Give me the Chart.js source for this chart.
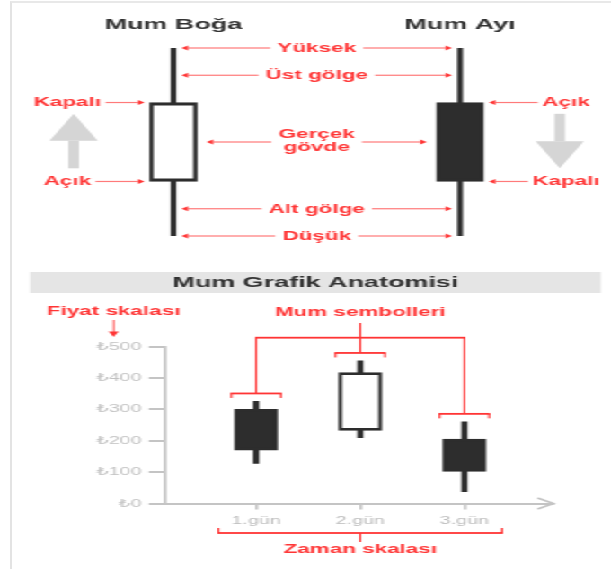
<!DOCTYPE html>
<html lang="tr">
<head>
<meta charset="utf-8">
<title>Mum Grafik Anatomisi</title>
<script src="https://cdn.jsdelivr.net/npm/chart.js@4.4.1/dist/chart.umd.min.js"></script>
<style>
  html, body { margin: 0; padding: 0; background: #fff; }
  #page { position: relative; width: 611px; height: 572px; overflow: hidden; background: #fff; }
  #frame { position: absolute; left: 10px; top: 1px; width: 601px; height: 568px;
           border-left: 2px solid #e3e3e3; border-top: 2px solid #e8e8e8; box-sizing: border-box; }
  /* the artwork is laid out on a narrow sheet and widened horizontally */
  #sheet { position: absolute; left: 0; top: 0; width: 340px; height: 572px;
           transform: scaleX(1.797); transform-origin: 0 0; }
  #anatomy { position: absolute; left: 0; top: 0; }
  #price { position: absolute; left: 0; top: 265px; }
</style>
</head>
<body>
<div id="page">
  <div id="frame"></div>
  <div id="sheet">
    <canvas id="anatomy" width="340" height="265"></canvas>
    <canvas id="price" width="340" height="307"></canvas>
  </div>
</div>
<script>
// ---- Anatomy of a bullish and a bearish candle ----
const anatomyNames = ['Mum Boğa', 'Mum Ayı'];
const anatomyOpen  = [29, 71];
const anatomyClose = [71, 29];
const anatomyHigh  = [100, 100];
const anatomyLow   = [0, 0];
const partNames = [['Yüksek'], ['Üst gölge'], ['Gerçek', 'gövde'], ['Alt gölge'], ['Düşük']];
const openName = 'Açık';
const closeName = 'Kapalı';

// ---- Three days of prices ----
const chartTitle = 'Mum Grafik Anatomisi';
const dayLabels    = ['1.gün', '2.gün', '3.gün'];
const dayPositions = [1, 2, 3];
const dayOpen  = [300, 233, 205];
const dayClose = [170, 417, 102];
const dayHigh  = [325, 454, 260];
const dayLow   = [128, 210, 38];
const priceTicks = [0, 100, 200, 300, 400, 500];
const priceScaleName = 'Fiyat skalası';
const candleName = 'Mum sembolleri';
const timeScaleName = 'Zaman skalası';

const INK = '#2d2d2d';
const RED = '#ff3535';
const RED_LINE = '#ff7a7a';
const AXIS = '#c4c4c4';
const FAMILY = '"Liberation Sans", Arial, "DejaVu Sans", sans-serif';
Chart.defaults.font.family = FAMILY;

function hLine(ctx, x1, x2, y, t) { ctx.fillRect(Math.min(x1, x2), y - t / 2, Math.abs(x2 - x1), t); }
function vLine(ctx, x, y1, y2, t) { ctx.fillRect(x - t / 2, Math.min(y1, y2), t, Math.abs(y2 - y1)); }

function redArrow(ctx, from, to, yy) {
  const dir = to > from ? 1 : -1;
  const head = 3.6;
  ctx.fillStyle = RED_LINE;
  hLine(ctx, from, to - dir * head, yy, 1.2);
  ctx.fillStyle = RED;
  ctx.beginPath();
  ctx.moveTo(to, yy);
  ctx.lineTo(to - dir * head, yy - 2.5);
  ctx.lineTo(to - dir * head, yy + 2.5);
  ctx.closePath();
  ctx.fill();
}

function grayArrow(ctx, cx, yTail, yTip) {
  const dir = yTip < yTail ? -1 : 1;
  const headLen = 27, headHalf = 13.4, shaftHalf = 2.95;
  const base = yTip - dir * headLen;
  ctx.fillStyle = '#d5d5d5';
  ctx.fillRect(cx - shaftHalf, Math.min(yTail, base), shaftHalf * 2, Math.abs(base - yTail));
  ctx.beginPath();
  ctx.moveTo(cx, yTip);
  ctx.lineTo(cx - headHalf, base);
  ctx.lineTo(cx + headHalf, base);
  ctx.closePath();
  ctx.fill();
}

// labels, arrows and titles around the two anatomy candles
const anatomyNotes = {
  id: 'anatomyNotes',
  afterDatasetsDraw(chart) {
    const { ctx, scales: { x, y } } = chart;
    const bodyHalf = 13.1;
    const wx = anatomyNames.map((_, i) => x.getPixelForValue(i));
    const cx = (wx[0] + wx[1]) / 2;
    ctx.save();
    ctx.textAlign = 'center';
    ctx.textBaseline = 'middle';

    ctx.font = 'bold 15px ' + FAMILY;
    ctx.fillStyle = '#333';
    anatomyNames.forEach((n, i) => ctx.fillText(n, wx[i], y.top - 23));

    const hi = anatomyHigh[0], lo = anatomyLow[0];
    const bTop = Math.max(anatomyOpen[0], anatomyClose[0]);
    const bBot = Math.min(anatomyOpen[0], anatomyClose[0]);
    const levels = [hi, (hi + bTop) / 2, (bTop + bBot) / 2, (bBot + lo) / 2, lo];

    ctx.font = 'bold 12.5px ' + FAMILY;
    partNames.forEach((lines, i) => {
      const py = y.getPixelForValue(levels[i]);
      const tw = Math.max(...lines.map(l => ctx.measureText(l).width));
      ctx.fillStyle = RED;
      if (lines.length === 2) {
        ctx.fillText(lines[0], cx, py - 7.5);
        ctx.fillText(lines[1], cx, py + 6);
      } else {
        ctx.fillText(lines[0], cx, py + 0.5);
      }
      const inBody = lines.length === 2;
      const leftTip = wx[0] + (inBody ? bodyHalf + 5.4 : 4.5);
      const rightTip = wx[1] - (inBody ? bodyHalf + 5.4 : 4.5);
      redArrow(ctx, cx - tw / 2 - 4, leftTip, py);
      redArrow(ctx, cx + tw / 2 + 4, rightTip, py);
    });

    // open / close markers at the body edges, trend arrows beside them
    anatomyNames.forEach((_, i) => {
      const side = i === 0 ? -1 : 1;
      const tx = wx[i] + side * 59;
      [[openName, anatomyOpen[i]], [closeName, anatomyClose[i]]].forEach(([name, v]) => {
        const py = y.getPixelForValue(v);
        const tw = ctx.measureText(name).width;
        ctx.fillStyle = RED;
        ctx.fillText(name, tx, py + 0.5);
        const tail = tx - side * (tw / 2 + 2.5);
        const tip = wx[i] + side * (bodyHalf + 3);
        redArrow(ctx, tail, tip, py);
      });
      const up = anatomyClose[i] > anatomyOpen[i];
      const top = Math.max(anatomyOpen[i], anatomyClose[i]) - 6;
      const bot = Math.min(anatomyOpen[i], anatomyClose[i]) + 7;
      const ax = wx[i] + side * 55.5;
      if (up) grayArrow(ctx, ax, y.getPixelForValue(bot), y.getPixelForValue(top));
      else grayArrow(ctx, ax, y.getPixelForValue(top), y.getPixelForValue(bot));
    });
    ctx.restore();
  }
};

new Chart(document.getElementById('anatomy'), {
  type: 'bar',
  data: {
    labels: anatomyNames,
    datasets: [
      {
        label: 'gölge',
        data: anatomyLow.map((l, i) => [l, anatomyHigh[i]]),
        backgroundColor: INK,
        barThickness: 2.5,
        grouped: false,
        order: 2
      },
      {
        label: 'gövde',
        data: anatomyOpen.map((o, i) => [o, anatomyClose[i]]),
        backgroundColor: anatomyOpen.map((o, i) => anatomyClose[i] > o ? '#ffffff' : INK),
        borderColor: INK,
        borderWidth: { top: 3.3, bottom: 3.3, left: 2.4, right: 2.4 },
        borderSkipped: false,
        barThickness: 26.2,
        grouped: false,
        order: 1
      }
    ]
  },
  options: {
    responsive: false,
    animation: false,
    devicePixelRatio: 1,
    layout: { padding: { left: 16.75, right: 4.25, top: 48, bottom: 29 } },
    plugins: { legend: { display: false }, tooltip: { enabled: false } },
    scales: {
      x: { display: false },
      y: { display: false, min: 0, max: 100 }
    }
  },
  plugins: [anatomyNotes]
});

// banner, axis arrow and red callouts of the price chart
const priceNotes = {
  id: 'priceNotes',
  beforeDraw(chart) {
    const { ctx } = chart;
    ctx.save();
    ctx.fillStyle = '#e5e5e5';
    ctx.fillRect(16.7, 7, 317.7, 21);
    ctx.restore();
  },
  afterDraw(chart) {
    const { ctx, scales: { x, y } } = chart;
    ctx.save();
    ctx.textAlign = 'center';
    ctx.textBaseline = 'middle';
    ctx.font = 'bold 15px ' + FAMILY;
    ctx.fillStyle = '#333';
    ctx.fillText(chartTitle, 175.5, 18);

    // arrow head at the end of the time axis
    ctx.strokeStyle = AXIS;
    ctx.lineWidth = 1.6;
    ctx.beginPath();
    ctx.moveTo(x.right - 8.5, y.bottom - 5.5);
    ctx.lineTo(x.right + 0.3, y.bottom);
    ctx.lineTo(x.right - 8.5, y.bottom + 5.5);
    ctx.stroke();

    ctx.font = 'bold 12.5px ' + FAMILY;
    ctx.fillStyle = RED;

    // price scale callout
    const px = y.right - 28.6;
    ctx.fillText(priceScaleName, px, y.top - 34.5);
    vLine(ctx, px, y.top - 26.5, y.top - 14, 0.8);
    ctx.beginPath();
    ctx.moveTo(px, y.top - 9.5);
    ctx.lineTo(px - 2.8, y.top - 15);
    ctx.lineTo(px + 2.8, y.top - 15);
    ctx.closePath();
    ctx.fill();

    // candle symbol callout
    const xs = dayPositions.map(d => x.getPixelForValue(d));
    const br = dayHigh.map(h => y.getPixelForValue(h) - 8);
    const bHalf = 14.3, th = 1.8, tv = 1.1;
    ctx.fillText(candleName, xs[1], 48);
    vLine(ctx, xs[1], 58, br[1], tv);
    hLine(ctx, xs[0] - tv / 2, xs[2] + tv / 2, 72.7, th);
    vLine(ctx, xs[0], 72.7, br[0], tv);
    vLine(ctx, xs[2], 72.7, br[2], tv);
    xs.forEach((cx, i) => {
      hLine(ctx, cx - bHalf, cx + bHalf, br[i], th);
      vLine(ctx, cx - bHalf + tv / 2, br[i], br[i] + 4.5, tv);
      vLine(ctx, cx + bHalf - tv / 2, br[i], br[i] + 4.5, tv);
    });

    // time scale callout
    const ty = y.bottom + 29.5;
    const tl = xs[0] - 21.5, tr = xs[2] + 21.5;
    hLine(ctx, tl, tr, ty, th);
    vLine(ctx, tl + tv / 2, ty - 5, ty, tv);
    vLine(ctx, tr - tv / 2, ty - 5, ty, tv);
    vLine(ctx, xs[1], ty, ty + 9, tv);
    ctx.fillText(timeScaleName, xs[1], ty + 17);
    ctx.restore();
  }
};

new Chart(document.getElementById('price'), {
  type: 'bar',
  data: {
    datasets: [
      {
        label: 'gölge',
        data: dayPositions.map((d, i) => ({ x: d, y: [dayLow[i], dayHigh[i]] })),
        backgroundColor: INK,
        barThickness: 2.8,
        grouped: false,
        order: 2
      },
      {
        label: 'gövde',
        data: dayPositions.map((d, i) => ({ x: d, y: [dayOpen[i], dayClose[i]] })),
        backgroundColor: dayOpen.map((o, i) => dayClose[i] > o ? '#ffffff' : INK),
        borderColor: INK,
        borderWidth: { top: 2.7, bottom: 2.7, left: 2.2, right: 2.2 },
        borderSkipped: false,
        barThickness: 23.9,
        grouped: false,
        order: 1
      }
    ]
  },
  options: {
    responsive: false,
    animation: false,
    devicePixelRatio: 1,
    layout: { padding: { left: 0, right: 32.3, top: 81.5, bottom: 28.5 } },
    plugins: { legend: { display: false }, tooltip: { enabled: false } },
    scales: {
      x: {
        type: 'linear',
        min: 0.125,
        max: 3.85,
        offset: false,
        grid: { display: true, drawOnChartArea: false, offset: false, tickLength: 6, color: AXIS, lineWidth: 1.6 },
        border: { color: AXIS, width: 2 },
        afterBuildTicks: s => { s.ticks = dayPositions.map(v => ({ value: v })); },
        afterFit: s => { s.height = 40; },
        ticks: {
          color: '#bdbdbd',
          font: { size: 11, family: FAMILY },
          padding: 5,
          autoSkip: false,
          maxRotation: 0,
          callback: (v, i) => dayLabels[i]
        }
      },
      y: {
        min: 0,
        max: 500,
        grid: { drawOnChartArea: false, tickLength: 9, color: AXIS, lineWidth: 2 },
        border: { color: AXIS, width: 1.7 },
        afterBuildTicks: s => { s.ticks = priceTicks.map(v => ({ value: v })); },
        afterFit: s => { s.width = 91.8; },
        ticks: {
          color: '#c2c2c2',
          font: { size: 11, family: FAMILY },
          padding: 4,
          callback: v => '₺' + v
        }
      }
    }
  },
  plugins: [priceNotes]
});
</script>
</body>
</html>
